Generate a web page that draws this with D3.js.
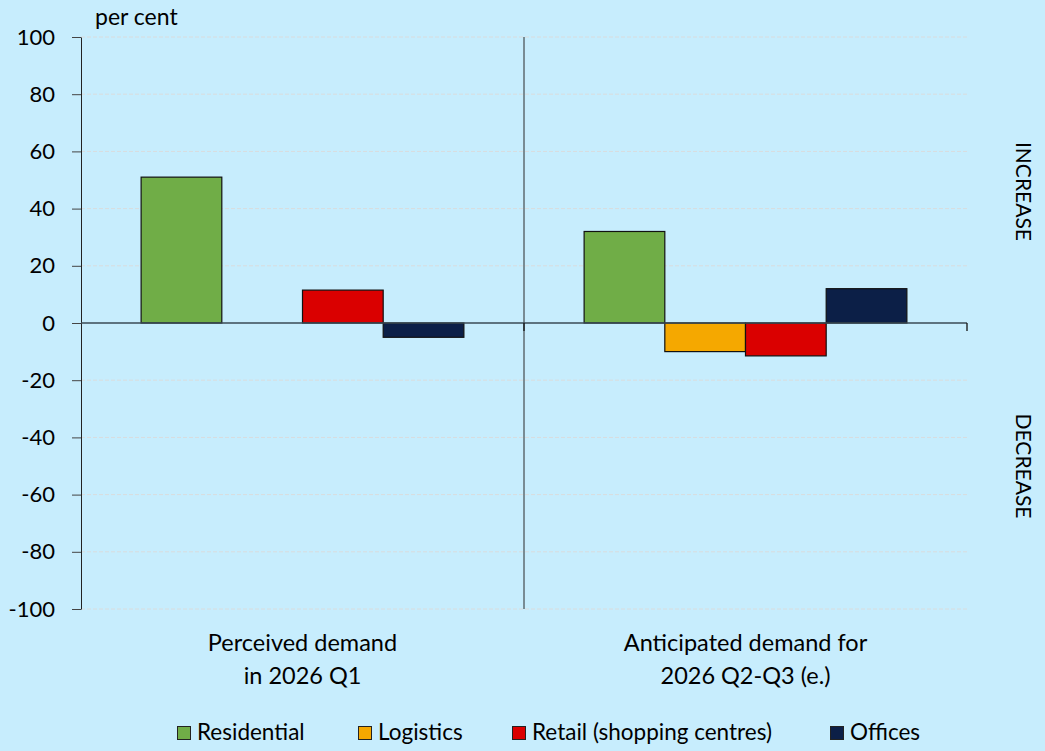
<!DOCTYPE html>
<html>
<head>
<meta charset="utf-8">
<script src="https://cdn.jsdelivr.net/npm/d3@7"></script>
<style>
  html, body { margin: 0; padding: 0; background: #C7EDFD; }
  svg { display: block; font-family: Lato, "Open Sans", sans-serif; }
</style>
</head>
<body>
<svg id="chart" width="1045" height="751"></svg>
<script>
// Demand for commercial real estate, balance of responses (per cent)
const groups = ["Perceived demand|in 2026 Q1", "Anticipated demand for|2026 Q2-Q3 (e.)"];
const seriesNames = ["Residential", "Logistics", "Retail (shopping centres)", "Offices"];
const residential = [51, 32];
const logistics = [0, -10];
const retail = [11.5, -11.5];
const offices = [-5, 12];
const yTicks = [100, 80, 60, 40, 20, 0, -20, -40, -60, -80, -100];
const colors = ["#70AD47", "#F5A800", "#DA0000", "#0C1F47"];

const seriesValues = [residential, logistics, retail, offices];

const svg = d3.select("#chart");
const plotLeft = 81, plotRight = 967, plotTop = 37, plotBottom = 609;

const x0 = d3.scaleBand().domain(groups).range([plotLeft, plotRight]).paddingInner(0).paddingOuter(0);
// four bars fill the middle of each band, with equal margins either side
const x1 = d3.scaleBand().domain(seriesNames).range([0, x0.bandwidth()])
  .paddingInner(0).paddingOuter(0.745);
const y = d3.scaleLinear().domain([-100, 100]).range([plotBottom, plotTop]);

// gridlines
svg.append("g").selectAll("line").data(yTicks.filter(d => d !== 0)).join("line")
  .attr("x1", plotLeft).attr("x2", plotRight)
  .attr("y1", d => y(d)).attr("y2", d => y(d))
  .attr("stroke", "#D9DCDD").attr("stroke-width", 1).attr("stroke-dasharray", "4,2");

// y axis (plain hyphen for negatives)
const yAxis = d3.axisLeft(y).tickValues(yTicks).tickFormat(d => String(d))
  .tickSize(9).tickSizeOuter(0).tickPadding(17);
const ya = svg.append("g").attr("transform", `translate(${plotLeft},0)`).call(yAxis);
ya.select(".domain").attr("stroke", "#222");
ya.selectAll(".tick line").attr("stroke", "#444");
ya.selectAll(".tick text").attr("font-size", 22).attr("fill", "#000")
  .attr("font-family", "Lato, sans-serif");

// divider between the two groups
svg.append("line")
  .attr("x1", x0(groups[1])).attr("x2", x0(groups[1]))
  .attr("y1", plotTop).attr("y2", plotBottom)
  .attr("stroke", "#2b2b2b").attr("stroke-width", 1);

// bars
groups.forEach((g, gi) => {
  seriesNames.forEach((s, si) => {
    const v = seriesValues[si][gi];
    if (v === 0) return;
    svg.append("rect")
      .attr("x", x0(g) + x1(s))
      .attr("width", x1.bandwidth())
      .attr("y", y(Math.max(0, v)))
      .attr("height", Math.abs(y(v) - y(0)))
      .attr("fill", colors[si])
      .attr("stroke", "#111").attr("stroke-width", 1.2);
  });
});

// zero axis with category boundary ticks
svg.append("line")
  .attr("x1", plotLeft).attr("x2", plotRight).attr("y1", y(0)).attr("y2", y(0))
  .attr("stroke", "#3a4a55").attr("stroke-width", 1.3);
[x0(groups[1]), plotRight].forEach(px => {
  svg.append("line").attr("x1", px).attr("x2", px)
    .attr("y1", y(0)).attr("y2", y(0) + 8)
    .attr("stroke", "#111").attr("stroke-width", 1.3);
});

// category labels
groups.forEach(g => {
  const lines = g.split("|");
  const cx = x0(g) + x0.bandwidth() / 2;
  const t = svg.append("text")
    .attr("text-anchor", "middle").attr("font-size", 23.5).attr("fill", "#000");
  lines.forEach((ln, i) => {
    t.append("tspan").attr("x", cx).attr("y", 651 + i * 32.5).text(ln);
  });
});

// unit label
svg.append("text").attr("x", 95).attr("y", 25).attr("font-size", 23).text("per cent");

// side labels
svg.append("text").attr("transform", `translate(1016,${y(46)}) rotate(90)`)
  .attr("text-anchor", "middle").attr("font-size", 21).text("INCREASE");
svg.append("text").attr("transform", `translate(1016,${y(-50)}) rotate(90)`)
  .attr("text-anchor", "middle").attr("font-size", 21).text("DECREASE");

// legend
const legendX = [177, 358, 512, 830];
const lg = svg.append("g");
seriesNames.forEach((s, i) => {
  lg.append("rect").attr("x", legendX[i] + 0.5).attr("y", 726.5)
    .attr("width", 13).attr("height", 13)
    .attr("fill", colors[i]).attr("stroke", "#222").attr("stroke-width", 1);
  lg.append("text").attr("x", legendX[i] + 20).attr("y", 740)
    .attr("font-size", 22.5).text(s);
});
</script>
</body>
</html>
